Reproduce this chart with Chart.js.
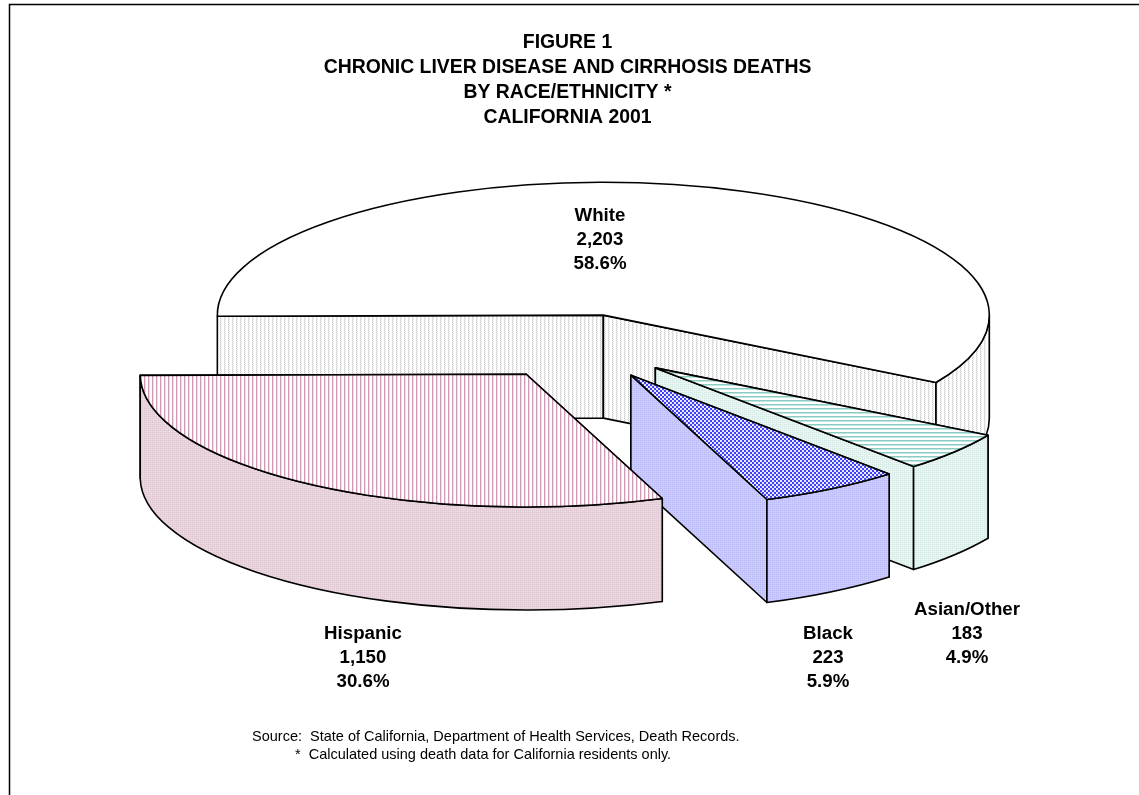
<!DOCTYPE html>
<html>
<head>
<meta charset="utf-8">
<title>Figure 1</title>
<script src="https://cdn.jsdelivr.net/npm/chart.js@4"></script>
<style>
  html, body { margin: 0; padding: 0; background: #fff; }
  canvas { display: block; }
</style>
</head>
<body>
<canvas id="pie" width="1139" height="795"></canvas>
<script>
// data
const categories = ['White', 'Asian/Other', 'Black', 'Hispanic'];
const deaths = [2203, 183, 223, 1150];
const percents = ['58.6%', '4.9%', '5.9%', '30.6%'];
const titleLines = [
    'FIGURE 1',
    'CHRONIC LIVER DISEASE AND CIRRHOSIS DEATHS',
    'BY RACE/ETHNICITY *',
    'CALIFORNIA 2001'
];
const footLines = [
    'Source:  State of California, Department of Health Services, Death Records.',
    '*  Calculated using death data for California residents only.'
];

// look of the 3D pie
const squash = 0.344;
const depth = 103;
const radius = 386;
const explode = [96, 96, 96, 96];
const shiftX = [11, 13.5, 13.5, 13];
const labelSpots = [[600, 216], [967, 610], [828, 634], [363, 634]];
const footSpots = [[252, 737], [295, 755]];

function tile(w, h, bg, dots) {
    const c = document.createElement('canvas');
    c.width = w;
    c.height = h;
    const g = c.getContext('2d');
    g.fillStyle = bg;
    g.fillRect(0, 0, w, h);
    dots.forEach(d => {
        g.fillStyle = d[2];
        g.fillRect(d[0], d[1], d[3] || 1, d[4] || 1);
    });
    return g.createPattern(c, 'repeat');
}

const wallFills = [
    tile(4, 2, '#ffffff', [[0, 0, '#d0d0d0'], [1, 1, '#e2e2e2'], [0, 1, '#e8e8e8']]),
    tile(2, 2, '#e3f2ee', [[0, 0, '#d6eae6'], [1, 1, '#eff8f5']]),
    tile(2, 2, '#c6c6fc', [[0, 0, '#bebef6'], [1, 1, '#d0d0ff']]),
    tile(2, 2, '#e6d2db', [[0, 0, '#e0c8d4'], [1, 1, '#ecdde3']])
];
const topFills = [
    '#ffffff',
    tile(4, 4, '#ffffff', [[0, 0, '#8acbc3', 4, 1], [0, 1, '#c4e6e1', 4, 1]]),
    tile(4, 4, '#4040f4', [[0, 0, '#e8e8ff', 2, 2], [2, 2, '#e8e8ff', 2, 2]]),
    tile(4, 4, '#ffffff', [[0, 0, '#d09ab6', 1, 4], [1, 0, '#eeddE6', 1, 4]])
];

const pie3d = {
    id: 'pie3d',
    afterDatasetsUpdate(chart) {
        // push every slice out along its own middle angle
        chart.getDatasetMeta(0).data.forEach((arc, i) => {
            const mid = (arc.startAngle + arc.endAngle) / 2;
            arc.x += Math.cos(mid) * explode[i] + shiftX[i];
            arc.y += Math.sin(mid) * explode[i];
        });
    },
    beforeDraw(chart) {
        const ctx = chart.ctx;
        ctx.save();
        ctx.strokeStyle = '#000';
        ctx.lineWidth = 1.5;
        ctx.beginPath();
        ctx.moveTo(9.5, chart.height);
        ctx.lineTo(9.5, 4.5);
        ctx.lineTo(chart.width, 4.5);
        ctx.stroke();
        ctx.restore();
    },
    beforeDatasetDraw(chart) {
        const ctx = chart.ctx;
        const cy = (chart.chartArea.top + chart.chartArea.bottom) / 2;
        const arcs = chart.getDatasetMeta(0).data;

        ctx.save();
        ctx.strokeStyle = '#000';
        ctx.lineWidth = 1.6;
        ctx.lineJoin = 'round';
        arcs.forEach((arc, i) => {
            const sx = arc.x;
            const sy = cy + (arc.y - cy) * squash;
            const rx = arc.outerRadius;
            const ry = rx * squash;
            ctx.fillStyle = wallFills[i];
            // the two cut faces
            [arc.startAngle, arc.endAngle].forEach(a => {
                const ex = sx + Math.cos(a) * rx;
                const ey = sy + Math.sin(a) * ry;
                ctx.beginPath();
                ctx.moveTo(sx, sy);
                ctx.lineTo(ex, ey);
                ctx.lineTo(ex, ey + depth);
                ctx.lineTo(sx, sy + depth);
                ctx.closePath();
                ctx.fill();
                ctx.stroke();
            });
            // outer wall, front half only
            const a0 = Math.max(arc.startAngle, 0);
            const a1 = Math.min(arc.endAngle, Math.PI);
            if (a1 > a0) {
                ctx.beginPath();
                ctx.ellipse(sx, sy, rx, ry, 0, a0, a1);
                ctx.ellipse(sx, sy + depth, rx, ry, 0, a1, a0, true);
                ctx.closePath();
                ctx.fill();
                ctx.stroke();
            }
        });
        ctx.restore();

        // the library draws the tops in this squashed space
        const t = cy * (1 - squash);
        const m = new DOMMatrix([1, 0, 0, 1 / squash, 0, (Math.ceil(t) - t) / squash]);
        topFills.forEach(f => { if (f.setTransform) f.setTransform(m); });
        ctx.save();
        ctx.translate(0, cy);
        ctx.scale(1, squash);
        ctx.translate(0, -cy);
    },
    afterDatasetDraw(chart) {
        const ctx = chart.ctx;
        ctx.restore();
        const cy = (chart.chartArea.top + chart.chartArea.bottom) / 2;
        ctx.save();
        ctx.strokeStyle = '#000';
        ctx.lineWidth = 1.6;
        ctx.lineJoin = 'round';
        chart.getDatasetMeta(0).data.forEach(arc => {
            const sy = cy + (arc.y - cy) * squash;
            ctx.beginPath();
            ctx.moveTo(arc.x, sy);
            ctx.ellipse(arc.x, sy, arc.outerRadius, arc.outerRadius * squash, 0, arc.startAngle, arc.endAngle);
            ctx.closePath();
            ctx.stroke();
        });
        ctx.restore();
    },
    afterDraw(chart) {
        const ctx = chart.ctx;
        ctx.save();
        ctx.fillStyle = '#000';
        ctx.textBaseline = 'middle';
        ctx.textAlign = 'center';
        ctx.font = 'bold 18.7px "Liberation Sans"';
        categories.forEach((name, i) => {
            const [x, y] = labelSpots[i];
            ctx.fillText(name, x, y);
            ctx.fillText(deaths[i].toLocaleString('en-US'), x, y + 23.5);
            ctx.fillText(percents[i], x, y + 48);
        });
        ctx.textAlign = 'left';
        ctx.font = '14.5px "Liberation Sans"';
        footLines.forEach((line, i) => {
            ctx.fillText(line, footSpots[i][0], footSpots[i][1]);
        });
        ctx.restore();
    }
};

new Chart(document.getElementById('pie'), {
    type: 'pie',
    data: {
        labels: categories,
        datasets: [{
            data: deaths,
            backgroundColor: topFills,
            borderWidth: 0
        }]
    },
    options: {
        responsive: false,
        animation: false,
        events: [],
        rotation: -90.5,
        radius: radius,
        layout: { padding: { bottom: 231, right: 4 } },
        plugins: {
            legend: { display: false },
            tooltip: { enabled: false },
            title: {
                display: true,
                text: titleLines,
                color: '#000',
                font: { family: '"Liberation Sans"', size: 19.4, weight: 'bold', lineHeight: 25 / 19.4 },
                padding: { top: 30, bottom: 0 }
            }
        }
    },
    plugins: [pie3d]
});
</script>
</body>
</html>
